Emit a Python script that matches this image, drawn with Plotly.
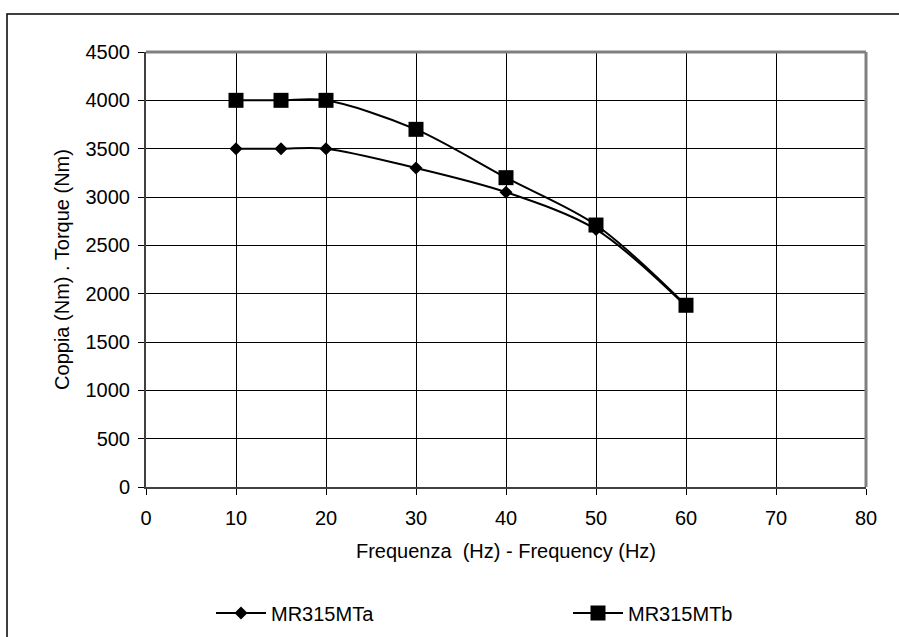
import plotly.graph_objects as go

freq = [10, 15, 20, 30, 40, 50, 60]
torque_mta = [3500, 3500, 3500, 3300, 3050, 2665, 1870]
torque_mtb = [4000, 4000, 4000, 3700, 3200, 2710, 1880]
x_ticks = [0, 10, 20, 30, 40, 50, 60, 70, 80]
y_ticks = [0, 500, 1000, 1500, 2000, 2500, 3000, 3500, 4000, 4500]

FONT = "Liberation Sans, Arial, sans-serif"
FS = 20

fig = go.Figure()
fig.add_trace(go.Scatter(
    x=freq, y=torque_mta, name="MR315MTa", mode="lines+markers",
    line=dict(color="black", width=2, shape="spline", smoothing=0.9),
    marker=dict(symbol="diamond", size=10, color="black"),
    legend="legend",
))
fig.add_trace(go.Scatter(
    x=freq, y=torque_mtb, name="MR315MTb", mode="lines+markers",
    line=dict(color="black", width=2, shape="spline", smoothing=0.9),
    marker=dict(symbol="square", size=15, color="black"),
    legend="legend2",
))

L, R, T, B = 146, 33, 52, 150
W, H = 899, 637
pw, ph = W - L - R, H - T - B

def px_x(p):
    return (p - L) / pw

def px_y(p):
    return (H - B - p) / ph

legend_common = dict(
    orientation="h", xanchor="left", yanchor="middle",
    font=dict(size=FS), bgcolor="rgba(0,0,0,0)", itemwidth=50,
)

fig.update_layout(
    width=W, height=H,
    margin=dict(l=L, r=R, t=T, b=B, autoexpand=False),
    paper_bgcolor="white", plot_bgcolor="white",
    font=dict(family=FONT, size=FS, color="black"),
    showlegend=True,
    legend=dict(x=px_x(211), y=px_y(613), **legend_common),
    legend2=dict(x=px_x(568), y=px_y(613), **legend_common),
    xaxis=dict(
        range=[0, 80], tickvals=x_ticks, ticktext=[str(v) for v in x_ticks],
        showgrid=True, gridcolor="black", gridwidth=1,
        ticks="outside", ticklen=6, tickcolor="black", tickwidth=1,
        showline=True, linecolor="#404040", linewidth=2,
        zeroline=False, ticklabelstandoff=6,
        title=dict(text="Frequenza  (Hz) - Frequency (Hz)", font=dict(size=FS), standoff=16),
    ),
    yaxis=dict(
        range=[0, 4500], tickvals=y_ticks, ticktext=[str(v) for v in y_ticks],
        showgrid=True, gridcolor="black", gridwidth=1,
        ticks="outside", ticklen=6, tickcolor="black", tickwidth=1,
        showline=True, linecolor="#404040", linewidth=2,
        zeroline=False, ticklabelstandoff=4,
        title=dict(text="Coppia (Nm) . Torque (Nm)", font=dict(size=FS), standoff=11),
    ),
    shapes=[
        dict(type="line", xref="paper", yref="paper", x0=0, x1=1, y0=1, y1=1,
             line=dict(color="#808080", width=3), layer="above"),
        dict(type="line", xref="paper", yref="paper", x0=1, x1=1, y0=0, y1=1,
             line=dict(color="#808080", width=3), layer="above"),
        dict(type="rect", xref="paper", yref="paper",
             x0=px_x(7), x1=px_x(910), y0=px_y(650), y1=px_y(14),
             line=dict(color="black", width=1.5), layer="below"),
    ],
)

fig.write_html(
    "out.html",
    config={"displayModeBar": False},
    post_script="document.body.style.margin='0';document.body.style.padding='0';",
)
